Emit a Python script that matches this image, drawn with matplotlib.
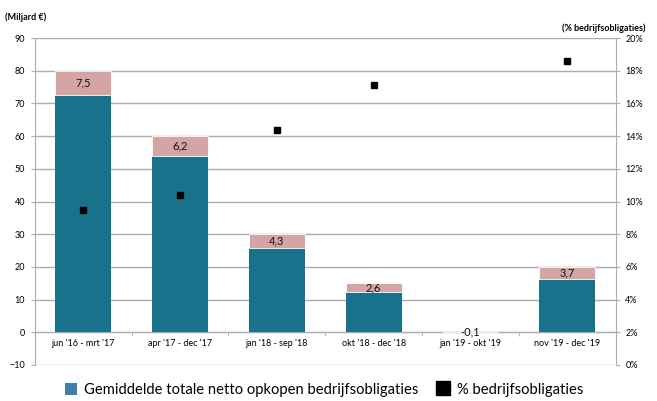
import numpy as np
import matplotlib
matplotlib.use("Agg")
import matplotlib.pyplot as plt
from matplotlib.patches import Patch
from matplotlib.lines import Line2D
from matplotlib.ticker import FuncFormatter, MultipleLocator

plt.rcParams['font.family'] = ['Lato', 'DejaVu Sans']

periods = ["jun '16 - mrt '17", "apr '17 - dec '17", "jan '18 - sep '18",
           "okt '18 - dec '18", "jan '19 - okt '19", "nov '19 - dec '19"]
totaal = [80.0, 60.0, 30.0, 15.0, 0.0, 20.0]          # miljard euro
bedrijfs = [7.5, 6.2, 4.3, 2.6, -0.1, 3.7]            # miljard euro
pct_bedrijfs = [9.5, 10.4, 14.4, 17.1, np.nan, 18.6]  # procent

teal = '#18728b'
pink = '#d5a4a4'
grid_c = '#adadad'

x = np.arange(len(periods))
rest = [t - b for t, b in zip(totaal, bedrijfs)]

fig = plt.figure(figsize=(6.57, 4.01), dpi=100)
ax = fig.add_axes([0.053, 0.09, 0.884, 0.815])

ax.bar(x, rest, width=0.58, color=teal, zorder=3)
ax.bar(x, bedrijfs, bottom=rest, width=0.58, color=pink,
       edgecolor='white', linewidth=0.6, zorder=3)
for xi, r, b in zip(x, rest, bedrijfs):
    ax.text(xi, r + b / 2, f'{b:.1f}'.replace('.', ','), ha='center',
            va='center', fontsize=8, color='#111111', zorder=5)

ax.set_xlim(-0.5, len(periods) - 0.5)
ax.set_ylim(-10, 90)
ax.yaxis.set_major_locator(MultipleLocator(10))
ax.grid(axis='y', color=grid_c, linewidth=1.0, zorder=0)
ax.set_axisbelow(True)

# category axis sits on the zero line
ax.spines['bottom'].set_position(('data', 0))
ax.spines['bottom'].set_color(grid_c)
ax.spines['top'].set_visible(False)
for s in ('left', 'right'):
    ax.spines[s].set_color(grid_c)
ax.set_xticks(x)
ax.set_xticklabels(periods, fontsize=6.5)
ax.tick_params(axis='x', length=0, pad=5)
ax.set_xticks(np.arange(len(periods) + 1) - 0.5, minor=True)
ax.tick_params(axis='x', which='minor', length=3, color=grid_c)
ax.tick_params(axis='y', labelsize=6.5, length=3, color=grid_c, pad=4)

ax2 = ax.twinx()
ax2.plot(x, pct_bedrijfs, linestyle='none', marker='s', markersize=4.6,
         color='black', zorder=6)
ax2.set_ylim(0, 20)
ax2.yaxis.set_major_locator(MultipleLocator(2))
ax2.yaxis.set_major_formatter(FuncFormatter(lambda v, p: f'{v:.0f}%'))
ax2.tick_params(axis='y', labelsize=6.5, length=3, color=grid_c, pad=4)
for s in ax2.spines.values():
    s.set_visible(False)

fig.text(0.008, 0.957, '(Miljard €)', fontsize=6.5, fontweight='bold', va='center')
fig.text(0.983, 0.93, '(% bedrijfsobligaties)', fontsize=6.5, fontweight='bold',
         va='center', ha='right')

handles = [Patch(facecolor='#3e7fa6', edgecolor='none'),
           Line2D([], [], linestyle='none', marker='s', markersize=10, color='black')]
fig.legend(handles, ['Gemiddelde totale netto opkopen bedrijfsobligaties',
                     '% bedrijfsobligaties'],
           loc='center', bbox_to_anchor=(0.493, 0.028), ncol=2, frameon=False,
           fontsize=10.6, handlelength=0.8, handleheight=0.9, handletextpad=0.5,
           columnspacing=1.3)

fig.savefig('out.png', dpi=100)
